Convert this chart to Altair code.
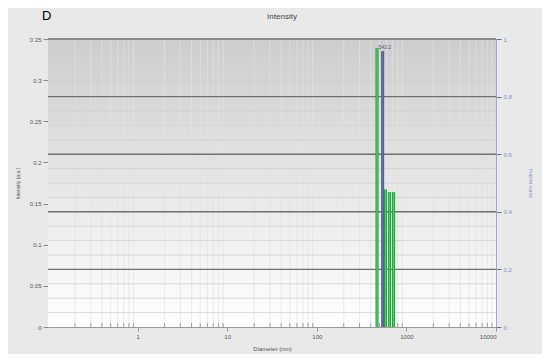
import altair as alt
import pandas as pd

# ---- data ----
dm_diam = [470, 585, 650, 720]
dm_int = [0.339, 0.167, 0.164, 0.164]
mc_diam = [543.2]
mc_int = [0.335]
mc_label = ["543.2"]

left_ticks = [0, 0.05, 0.1, 0.15, 0.2, 0.25, 0.3, 0.35]
right_major = [0.2, 0.4, 0.6, 0.8, 1.0]
right_minor = [0.05, 0.1, 0.15, 0.25, 0.3, 0.35, 0.45, 0.5, 0.55, 0.65, 0.7, 0.75, 0.85, 0.9, 0.95]
x_major = [1, 10, 100, 1000, 10000]
x_minor = [m * 10 ** e for e in range(-1, 4) for m in range(2, 10)]

W, H = 448, 288

bars = pd.DataFrame({
    "d": dm_diam + mc_diam,
    "y": dm_int + mc_int,
    "series": ["DM 343"] * len(dm_diam) + ["Master Curve"] * len(mc_diam),
})
mc = pd.DataFrame({"d": mc_diam, "y": mc_int, "lab": mc_label})
xminor = pd.DataFrame({"d": x_minor})
rmaj = pd.DataFrame({"r": right_major})
rmin = pd.DataFrame({"r": right_minor})

xscale = alt.Scale(type="log", domain=[0.1, 10000])
yscale = alt.Scale(domain=[0, 0.35], nice=False, zero=True)
rscale = alt.Scale(domain=[0, 1], nice=False)

xaxis = alt.Axis(values=x_major, format=".0f", grid=True, gridColor="#bdbdbd",
                 gridWidth=0.8, tickSize=4, labelFontSize=6, titleFontSize=6,
                 labelColor="#555555", titleColor="#555555", domainColor="#999999",
                 tickColor="#999999", titlePadding=6, titleFontWeight="normal")
yaxis = alt.Axis(values=left_ticks, format=".2~f", grid=True, gridColor="#c4c4c4",
                 gridWidth=0.8, tickSize=5, labelFontSize=6, titleFontSize=5,
                 labelColor="#555555", titleColor="#555555", domainColor="#999999",
                 tickColor="#888888", titlePadding=9, titleFontWeight="normal")
raxis = alt.Axis(orient="right", values=[0] + right_major, format=".1~f",
                 tickSize=5, labelFontSize=6, titleFontSize=5,
                 labelColor="#7f90d0", titleColor="#7f90d0", domainColor="#9aa6dd",
                 tickColor="#6f6f6f", titlePadding=16, grid=False,
                 titleFontWeight="normal")
XT = "Diameter (nm)"
YT = "Intensity (a.u.)"
RT = "master curve"

bg = alt.Chart(alt.Data(values=[{"a": 1}])).mark_rect(
    color=alt.Gradient(
        gradient="linear", x1=0, x2=0, y1=0, y2=1,
        stops=[alt.GradientStop(offset=0, color="#cdcdcd"),
               alt.GradientStop(offset=0.55, color="#e9e9e9"),
               alt.GradientStop(offset=1, color="#ffffff")],
    )
).encode(x=alt.value(0), x2=alt.value(W), y=alt.value(0), y2=alt.value(H))

vminor = alt.Chart(xminor).mark_rule(color="#e2e2e2", strokeWidth=0.7).encode(
    x=alt.X("d:Q", scale=xscale, axis=xaxis, title=XT)
)
xticks = alt.Chart(xminor).mark_rule(color="#888888", strokeWidth=0.8).encode(
    x=alt.X("d:Q", scale=xscale, axis=xaxis, title=XT), y=alt.value(H - 4), y2=alt.value(H)
)

rminor_l = alt.Chart(rmin).mark_rule(color="#d0d0d0", strokeWidth=0.8).encode(
    y=alt.Y("r:Q", scale=rscale, axis=raxis, title=RT)
)
rmajor_l = alt.Chart(rmaj).mark_rule(color="#6f6f6f", strokeWidth=1.4).encode(
    y=alt.Y("r:Q", scale=rscale, axis=raxis, title=RT)
)
right = alt.layer(rminor_l, rmajor_l)

series_dom = ["DM 343", "Master Curve"]
outer = alt.Chart(bars).mark_rule(strokeWidth=3).encode(
    x=alt.X("d:Q", scale=xscale, title=XT, axis=xaxis),
    y=alt.Y("y:Q", scale=yscale, title=YT, axis=yaxis),
    y2=alt.datum(0),
    stroke=alt.Stroke("series:N", scale=alt.Scale(domain=series_dom,
                                                   range=["#1f8f3a", "#4d5a8c"]), legend=None),
)
inner = alt.Chart(bars).mark_rule(strokeWidth=1.4).encode(
    x=alt.X("d:Q", scale=xscale, title=XT, axis=xaxis),
    y=alt.Y("y:Q", scale=yscale, title=YT, axis=yaxis),
    y2=alt.datum(0),
    color=alt.Color("series:N", scale=alt.Scale(domain=series_dom,
                                                 range=["#44d85a", "#6272a8"]),
                    legend=alt.Legend(title=None, orient="none", legendX=W - 56, legendY=10,
                                      symbolType="square", symbolSize=12, symbolStrokeWidth=5,
                                      labelFontSize=5, labelColor="#444444",
                                      fillColor="#f4f4f4", padding=3, rowPadding=1,
                                      labelOffset=4)),
)
lab = alt.Chart(mc).mark_text(fontSize=5, color="#555577", dy=-4, dx=2).encode(
    x=alt.X("d:Q", scale=xscale, axis=xaxis, title=XT),
    y=alt.Y("y:Q", scale=yscale, axis=yaxis, title=YT),
    text="lab:N",
)
left = alt.layer(outer, inner, lab)

title_t = alt.Chart(alt.Data(values=[{"a": 1}])).mark_text(
    text="Intensity", fontSize=8, color="#444444"
).encode(x=alt.value(W / 2 + 10), y=alt.value(-22))
d_t = alt.Chart(alt.Data(values=[{"a": 1}])).mark_text(
    text="D", fontSize=13, color="#000000", align="left"
).encode(x=alt.value(-6), y=alt.value(-23))

chart = alt.layer(bg, vminor, xticks, right, left, title_t, d_t).resolve_scale(
    y="independent"
).properties(
    width=W, height=H,
    autosize=alt.AutoSizeParams(type="none"),
    padding={"left": 40, "top": 31, "right": 46, "bottom": 27},
    background="#e9e9e9",
).configure_view(stroke=None)

chart.save("out.html", embed_options={"renderer": "svg", "actions": False})
